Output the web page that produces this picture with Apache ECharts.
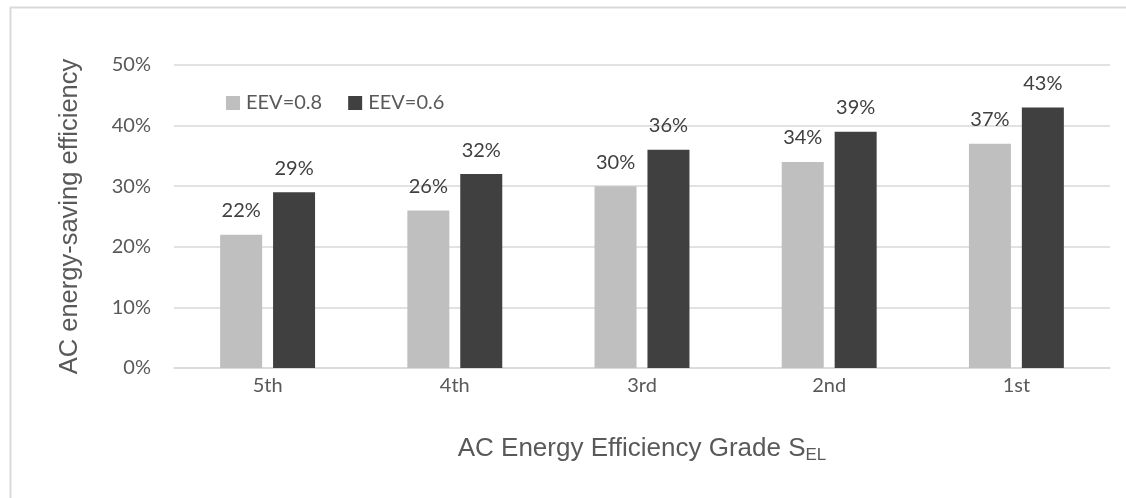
<!DOCTYPE html>
<html>
<head>
<meta charset="utf-8">
<script src="https://cdn.jsdelivr.net/npm/echarts@6/dist/echarts.min.js"></script>
<style>
  html, body { margin: 0; padding: 0; background: #fff; }
  #chart { width: 1126px; height: 498px; }
</style>
</head>
<body>
<div id="chart"></div>
<script>
// grades on the x axis
var grades = ["5th", "4th", "3rd", "2nd", "1st"];
// energy-saving efficiency, percent
var eev08 = [22, 26, 30, 34, 37];
var eev06 = [29, 32, 36, 39, 43];
var yTicks = [0, 10, 20, 30, 40, 50];

var chart = echarts.init(document.getElementById("chart"));
var labelFont = "Lato, 'Noto Sans', sans-serif";
var titleFont = "'Liberation Sans', Arial, sans-serif";

chart.setOption({
  backgroundColor: "#fff",
  animation: false,
  graphic: [{
    type: "rect",
    shape: { x: 10.5, y: 7.5, width: 1140, height: 520 },
    style: { fill: null, stroke: "#d9d9d9", lineWidth: 2 }
  }],
  grid: { left: 174, right: 16, top: 65, bottom: 130 },
  legend: {
    left: 226,
    top: 93,
    padding: 0,
    itemWidth: 14,
    itemHeight: 14,
    itemGap: 26,
    icon: "rect",
    textStyle: { color: "#595959", fontSize: 20, fontFamily: labelFont, padding: [0, 0, 0, 1] },
    data: ["EEV=0.8", "EEV=0.6"]
  },
  xAxis: {
    type: "category",
    data: grades,
    name: "{t|AC Energy Efficiency Grade S}{s|EL}",
    nameLocation: "middle",
    nameGap: 65,
    nameTextStyle: {
      rich: {
        t: { fontSize: 26, color: "#595959", fontFamily: titleFont },
        s: { fontSize: 17, color: "#595959", fontFamily: titleFont, padding: [14, 0, 0, 0] }
      }
    },
    axisLine: { lineStyle: { color: "#d9d9d9", width: 1.5 } },
    axisTick: { show: false },
    axisLabel: { color: "#595959", fontSize: 20, fontFamily: labelFont, margin: 8 }
  },
  yAxis: {
    type: "value",
    min: yTicks[0],
    max: yTicks[yTicks.length - 1],
    interval: 10,
    name: "AC energy-saving efficiency",
    nameLocation: "middle",
    nameGap: 91,
    nameTextStyle: { fontSize: 25.5, color: "#595959", fontFamily: titleFont },
    axisLine: { show: false },
    axisTick: { show: false },
    splitLine: { lineStyle: { color: "#d9d9d9", width: 1.5 } },
    axisLabel: { color: "#595959", fontSize: 20, fontFamily: labelFont, margin: 23, formatter: "{value}%" }
  },
  series: [
    {
      name: "EEV=0.8",
      type: "bar",
      data: eev08,
      barWidth: 42,
      barGap: "26%",
      itemStyle: { color: "#bfbfbf" },
      label: { show: true, position: "top", distance: 14, formatter: "{c}%", color: "#404040", fontSize: 20, fontFamily: labelFont }
    },
    {
      name: "EEV=0.6",
      type: "bar",
      data: eev06,
      barWidth: 42,
      itemStyle: { color: "#404040" },
      label: { show: true, position: "top", distance: 14, formatter: "{c}%", color: "#404040", fontSize: 20, fontFamily: labelFont }
    }
  ]
});
</script>
</body>
</html>
